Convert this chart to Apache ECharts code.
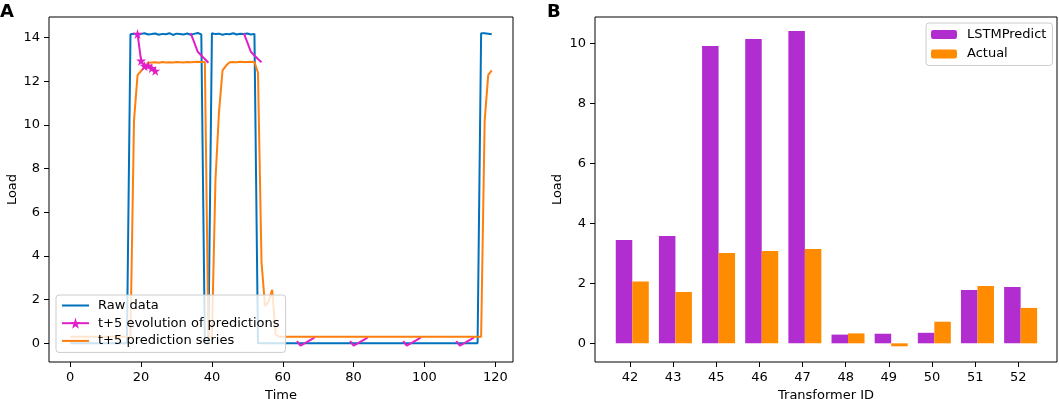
<!DOCTYPE html>
<html>
<head>
<meta charset="utf-8">
<title>Load forecast</title>
<script src="https://cdn.jsdelivr.net/npm/echarts@6/dist/echarts.min.js"></script>
<style>
  html, body { margin: 0; padding: 0; background: #fff; }
  #chart { width: 1059px; height: 399px; }
</style>
</head>
<body>
<div id="chart"></div>
<script>
// ---- panel A : load over time (t = 0..119) ----
var raw_data = [
  0, 0, 0, 0, 0, 0, 0, 0, 0, 0, 0, 0, 0, 0, 0, 0, 0,
  14.15, 14.18, 14.12, 14.17, 14.2, 14.14, 14.16, 14.19, 14.13, 14.17, 14.15,
  14.2, 14.12, 14.18, 14.16, 14.14, 14.19, 14.13, 14.17, 14.21, 14.15,
  0, 0,
  14.2, 14.16, 14.18, 14.13, 14.17, 14.15, 14.2, 14.14, 14.18, 14.16, 14.19, 14.14, 14.17,
  0, 0, 0, 0, 0, 0, 0, 0, 0, 0, 0, 0, 0, 0, 0, 0, 0, 0, 0, 0, 0,
  0, 0, 0, 0, 0, 0, 0, 0, 0, 0, 0, 0, 0, 0, 0, 0, 0, 0, 0, 0, 0,
  0, 0, 0, 0, 0, 0, 0, 0, 0, 0, 0, 0, 0, 0, 0, 0, 0, 0, 0, 0, 0,
  14.2, 14.2, 14.18, 14.15
];

var pred_series = [
  0.3, 0.3, 0.3, 0.3, 0.3, 0.3, 0.3, 0.3, 0.3, 0.3, 0.3, 0.3, 0.3, 0.3, 0.3, 0.3, 0.3,
  0.3, 10.2, 12.28, 12.47, 12.66, 12.85,
  12.86, 12.87, 12.85, 12.88, 12.86, 12.87, 12.86, 12.88, 12.87, 12.86, 12.88, 12.87,
  12.88, 12.89, 12.88, 12.88,
  0.3, 0.3, 7.5, 10.6, 12.5, 12.72, 12.87,
  12.88, 12.87, 12.89, 12.88, 12.88, 12.89, 12.88,
  12.4, 3.7, 1.7, 1.9, 2.45, 0.4,
  0.3, 0.3, 0.3, 0.3, 0.3, 0.3, 0.3, 0.3, 0.3, 0.3, 0.3, 0.3, 0.3, 0.3, 0.3, 0.3,
  0.3, 0.3, 0.3, 0.3, 0.3, 0.3, 0.3, 0.3, 0.3, 0.3, 0.3, 0.3, 0.3, 0.3, 0.3, 0.3,
  0.3, 0.3, 0.3, 0.3, 0.3, 0.3, 0.3, 0.3, 0.3, 0.3, 0.3, 0.3, 0.3, 0.3, 0.3, 0.3,
  0.3, 0.3, 0.3, 0.3, 0.3, 0.3, 0.3, 0.3, 0.3, 0.3,
  10.2, 12.28, 12.5
];

// t+5 evolution of predictions: first run (with stars) and the later runs
var evo_first_start = 19;
var evo_first = [14.17, 12.94, 12.7, 12.72, 12.6, 12.48];

var evo_starts = [34, 49, 64, 79, 94, 109];
var evo_34 = [14.2, 13.78, 13.35, 13.18, 13.02, 12.85];
var evo_49 = [14.2, 13.78, 13.35, 13.18, 13.02, 12.87];
var evo_64 = [0.1, -0.11, -0.02, 0.08, 0.17, 0.27];
var evo_79 = [0.1, -0.11, -0.02, 0.08, 0.17, 0.27];
var evo_94 = [0.1, -0.11, -0.02, 0.08, 0.17, 0.27];
var evo_109 = [0.1, -0.11, -0.02, 0.08, 0.17, 0.27];
var evo_runs = [evo_34, evo_49, evo_64, evo_79, evo_94, evo_109];

var time_ticks = [0, 20, 40, 60, 80, 100, 120];
var load_ticks_a = [0, 2, 4, 6, 8, 10, 12, 14];

// ---- panel B : per transformer ----
var transformer_ids = ['42', '43', '45', '46', '47', '48', '49', '50', '51', '52'];
var lstm_predict = [3.44, 3.58, 9.91, 10.14, 10.41, 0.29, 0.32, 0.35, 1.78, 1.88];
var actual_load = [2.06, 1.71, 3.01, 3.08, 3.14, 0.33, -0.1, 0.72, 1.91, 1.18];

var id_ticks = [0, 1, 2, 3, 4, 5, 6, 7, 8, 9];
var load_ticks_b = [0, 2, 4, 6, 8, 10];

var font = 'DejaVu Sans';
var star = 'path://M50,0 L61,35 L98,35 L68,57 L79,91 L50,70 L21,91 L32,57 L2,35 L39,35 Z';
var flat_line = 'path://M0,0 L40,0 L40,3 L0,3 Z';

function to_pairs(values, start) {
  var out = [];
  values.forEach(function(v, i) {
    out.push([start + i, v]);
  });
  return out;
}

var evo_later = [];
evo_runs.forEach(function(run, k) {
  evo_later = evo_later.concat(to_pairs(run, evo_starts[k]));
  evo_later.push([evo_starts[k] + 6, '-']);
});

function tick_axis(grid, min, max, ticks, name, gap, fmt) {
  return {
    gridIndex: grid, type: 'value', min: min, max: max,
    axisLine: {show: false, onZero: false},
    axisTick: {show: true, inside: false, length: 5, customValues: ticks,
               lineStyle: {color: '#000', width: 1}},
    axisLabel: {show: true, customValues: ticks, margin: 9, fontSize: 13,
                color: '#000', fontFamily: font, formatter: fmt},
    splitLine: {show: false},
    name: name, nameLocation: 'middle', nameGap: gap,
    nameTextStyle: {fontSize: 13, color: '#000', fontFamily: font}
  };
}

function legend_box(extra) {
  var l = {
    orient: 'vertical',
    backgroundColor: 'rgba(255,255,255,0.8)',
    borderColor: '#cccccc', borderWidth: 1, borderRadius: 3,
    textStyle: {fontSize: 13, color: '#000', fontFamily: font}
  };
  for (var k in extra) l[k] = extra[k];
  return l;
}

var chart = echarts.init(document.getElementById('chart'));

var option = {
  animation: false,
  backgroundColor: '#fff',
  textStyle: {fontFamily: font},
  title: [
    {text: 'A', left: 0, top: 3, padding: 0,
     textStyle: {fontSize: 18, fontWeight: 'bold', color: '#000', fontFamily: font}},
    {text: 'B', left: 547, top: 3, padding: 0,
     textStyle: {fontSize: 18, fontWeight: 'bold', color: '#000', fontFamily: font}}
  ],
  legend: [
    legend_box({
      data: [
        {name: 'Raw data', icon: flat_line},
        {name: 't+5 evolution of predictions'},
        {name: 't+5 prediction series', icon: flat_line}
      ],
      left: 56, top: 295,
      itemWidth: 27, itemHeight: 14, itemGap: 4.7,
      padding: [4, 6, 5, 5],
      textStyle: {fontSize: 13, color: '#000', fontFamily: font, padding: [0, 0, 0, 4]}
    }),
    legend_box({
      data: ['LSTMPredict', 'Actual'],
      left: 926, top: 23,
      itemWidth: 26, itemHeight: 9, itemGap: 6.5,
      padding: [5, 6, 5, 5],
      textStyle: {fontSize: 13, color: '#000', fontFamily: font, padding: [0, 0, 0, 5]}
    })
  ],
  grid: [
    // 0: panel A
    {left: 49, top: 17, width: 464, height: 345, show: true, outerBoundsMode: 'none',
     containLabel: false,
     borderColor: '#000', borderWidth: 1, backgroundColor: 'transparent'},
    // 1: panel B frame and ticks
    {left: 595, top: 17, width: 462, height: 345, show: true, outerBoundsMode: 'none',
     containLabel: false,
     borderColor: '#000', borderWidth: 1, backgroundColor: 'transparent'},
    // 2: panel B bars (category bands, sitting slightly right of the ticks)
    {left: 610.7, top: 17, width: 431.5, height: 345, outerBoundsMode: 'none',
     containLabel: false}
  ],
  xAxis: [
    tick_axis(0, -6, 125, time_ticks, 'Time', 25),
    tick_axis(1, -0.811, 9.897, id_ticks, 'Transformer ID', 25,
              function(v) { return transformer_ids[Math.round(v)]; }),
    {gridIndex: 2, type: 'category', data: transformer_ids, show: false}
  ],
  yAxis: [
    tick_axis(0, -0.856, 14.943, load_ticks_a, 'Load', 30),
    tick_axis(1, -0.623, 10.877, load_ticks_b, 'Load', 31),
    {gridIndex: 2, type: 'value', min: -0.623, max: 10.877, show: false,
     splitLine: {show: false}}
  ],
  series: [
    {
      name: 'Raw data', type: 'line', xAxisIndex: 0, yAxisIndex: 0,
      data: to_pairs(raw_data, 0), symbol: 'none',
      lineStyle: {color: '#0072BD', width: 2}, itemStyle: {color: '#0072BD'}
    },
    {
      name: 't+5 evolution of predictions', type: 'line', xAxisIndex: 0, yAxisIndex: 0,
      data: to_pairs(evo_first, evo_first_start), symbol: star, symbolSize: 10,
      showSymbol: true,
      lineStyle: {color: '#E11FC9', width: 2}, itemStyle: {color: '#E11FC9'}
    },
    {
      name: 'evolution later runs', type: 'line', xAxisIndex: 0, yAxisIndex: 0,
      data: evo_later, symbol: 'none', connectNulls: false,
      lineStyle: {color: '#E11FC9', width: 2}, itemStyle: {color: '#E11FC9'}
    },
    {
      name: 't+5 prediction series', type: 'line', xAxisIndex: 0, yAxisIndex: 0,
      data: to_pairs(pred_series, 0), symbol: 'none',
      lineStyle: {color: '#FF7F0E', width: 2}, itemStyle: {color: '#FF7F0E'}
    },
    {
      name: 'LSTMPredict', type: 'bar', xAxisIndex: 2, yAxisIndex: 2,
      data: lstm_predict, barWidth: 16.5, barGap: '0%',
      itemStyle: {color: '#B12DD0'}
    },
    {
      name: 'Actual', type: 'bar', xAxisIndex: 2, yAxisIndex: 2,
      data: actual_load, barWidth: 16.5, barGap: '0%',
      itemStyle: {color: '#FF8C00'}
    }
  ]
};

chart.setOption(option);
</script>
</body>
</html>
